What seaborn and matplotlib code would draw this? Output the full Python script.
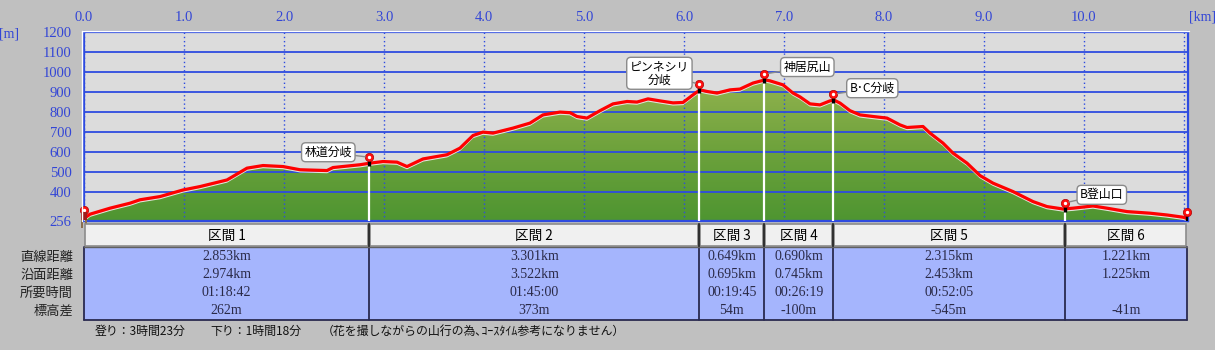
import numpy as np
import matplotlib
matplotlib.use("Agg")
import matplotlib.pyplot as plt
import seaborn as sns
from matplotlib.patches import Rectangle, Polygon
from matplotlib.colors import LinearSegmentedColormap
import matplotlib.transforms as mtrans

# ---------------- data ----------------
profile_km = [0.00, 0.06, 0.26, 0.46, 0.56, 0.76, 0.99, 1.16, 1.43, 1.63, 1.79, 1.99,
              2.16, 2.43, 2.49, 2.76, 2.86, 2.99, 3.13, 3.23, 3.39, 3.63, 3.76, 3.89,
              3.99, 4.09, 4.29, 4.46, 4.59, 4.76, 4.86, 4.93, 5.03, 5.16, 5.29, 5.43,
              5.53, 5.64, 5.76, 5.89, 5.99, 6.09, 6.16, 6.23, 6.33, 6.46, 6.56, 6.69,
              6.81, 6.86, 6.99, 7.09, 7.16, 7.26, 7.36, 7.46, 7.50, 7.56, 7.66, 7.76,
              7.89, 8.03, 8.16, 8.23, 8.39, 8.46, 8.59, 8.69, 8.83, 8.96, 9.09, 9.29,
              9.49, 9.63, 9.79, 9.89, 10.09, 10.23, 10.43, 10.66, 10.83, 10.99, 11.03]
profile_elev = [258, 280, 310, 335, 352, 368, 401, 418, 451, 510, 523, 518,
                502, 498, 513, 527, 535, 543, 540, 518, 556, 577, 610, 673,
                690, 685, 710, 735, 776, 790, 787, 768, 760, 797, 831, 843,
                840, 856, 846, 836, 838, 876, 901, 893, 885, 901, 905, 935,
                951, 946, 926, 885, 866, 831, 826, 846, 850, 835, 797, 776,
                768, 760, 726, 713, 718, 685, 635, 585, 535, 473, 435, 393,
                343, 318, 306, 310, 321, 310, 293, 285, 276, 265, 259]

sections = ["区間 1", "区間 2", "区間 3", "区間 4", "区間 5", "区間 6"]
straight_km = [2.853, 3.301, 0.649, 0.690, 2.315, 1.221]
surface_km = [2.974, 3.522, 0.695, 0.745, 2.453, 1.225]
section_times = ["01:18:42", "01:45:00", "00:19:45", "00:26:19", "00:52:05", ""]
elev_diff = [262, 373, 54, -100, -545, -41]
row_labels = ["直線距離", "沿面距離", "所要時間", "標高差"]
waypoints = ["林道分岐", "ピンネシリ\n分岐", "神居尻山", "B･C分岐", "B登山口"]
y_ticks = [256, 400, 500, 600, 700, 800, 900, 1000, 1100, 1200]
x_ticks = [0, 1, 2, 3, 4, 5, 6, 7, 8, 9, 10]
x_ticklabels = ["0.0", "1.0", "2.0", "3.0", "4.0", "5.0", "6.0", "7.0", "8.0", "9.0", "10.0"]
footer_texts = ["登り：3時間23分", "下り：1時間18分",
                "（花を撮しながらの山行の為､ｺｰｽﾀｲﾑ参考になりません）"]

# ---------------- style ----------------
sns.set_theme(style="white")
plt.rcParams["font.family"] = ["Noto Sans CJK JP", "DejaVu Sans"]
SERIF = ["Liberation Serif", "DejaVu Serif"]
BLUE_TXT = "#3346D6"
BLUE_LN = "#2E4BE0"
BG = "#C0C0C0"

W, H = 1215, 350
fig = plt.figure(figsize=(W / 100, H / 100), dpi=100, facecolor=BG)

ax = fig.add_axes([84 / W, 1 - 221 / H, 1104 / W, 189 / H])
ax.set_facecolor("#DCDCDC")

km = np.array(profile_km)
el = np.array(profile_elev, dtype=float)

# gradient fill clipped to profile
verts = np.column_stack([np.r_[km, km[::-1]], np.r_[el, np.full(len(km), 256.0)]])
poly = Polygon(verts, closed=True, fc="none", ec="none")
ax.add_patch(poly)
cmap = LinearSegmentedColormap.from_list("g", ["#4E9531", "#6EA23C", "#93B34F"])
grad = np.linspace(0, 1, 256).reshape(-1, 1)
im = ax.imshow(grad, extent=[0, 11.04, 256, 980], origin="lower", cmap=cmap,
               aspect="auto", zorder=1, interpolation="bilinear")
im.set_clip_path(poly)
ax.set_ylim(256, 1200)
ax.set_xlim(0, 11.04)

# grid
for y in y_ticks[1:-1]:
    ax.axhline(y, color=BLUE_LN, lw=1.3, zorder=2)
for x in range(12):
    ax.axvline(x, color=BLUE_LN, lw=1.0, ls=(0, (1, 2)), zorder=2)

# profile lines
ax.plot(km, el, color="#E4E4DC", lw=1.0, zorder=3)
sns.lineplot(x=km, y=el + 10, ax=ax, color="#FF0000", lw=2.3, sort=False,
             estimator=None, legend=False, zorder=5)

# section boundaries & markers
bounds = np.concatenate([[0.0], np.cumsum(straight_km)])
label_offsets = [(-41, 5), (-40, 11), (43, 7), (39, 6), (37, 8)]
for i, b in enumerate(bounds[1:]):
    e = np.interp(b, km, el)
    ax.plot([b, b], [256, e], color="white", lw=1.6, zorder=4, solid_capstyle="butt")
    ax.plot([b, b], [e - 5, e + 35], color="black", lw=2.4, zorder=6, solid_capstyle="butt")
    ax.scatter([b], [e + 40], s=36, color="#FF1010", edgecolors="#B00000",
               linewidths=0.5, zorder=7, clip_on=False)
    ax.scatter([b], [e + 40], s=2, color="white", zorder=8, clip_on=False)
    if i < len(waypoints):
        dx, dy = label_offsets[i]
        ax.annotate(waypoints[i], xy=(b, e + 40), xytext=(dx, dy),
                    textcoords="offset pixels", ha="center", va="center",
                    fontsize=8.6, color="black", linespacing=1.0, zorder=9,
                    bbox=dict(boxstyle="round,pad=0.25,rounding_size=0.35",
                              fc="white", ec="#8A8A8A", lw=1.0),
                    arrowprops=dict(arrowstyle="-", color="#8A8A8A", lw=1.0,
                                    shrinkA=0, shrinkB=3),
                    annotation_clip=False)

# start marker
ax.scatter([0], [el[0] + 55], s=36, color="#FF1010", edgecolors="#B00000",
           linewidths=0.5, zorder=7, clip_on=False)
ax.scatter([0], [el[0] + 55], s=2, color="white", zorder=8, clip_on=False)

# axes ticks
ax.set_yticks(y_ticks)
ax.set_yticklabels([str(v) for v in y_ticks])
ax.set_xticks(x_ticks)
ax.set_xticklabels(x_ticklabels)
ax.xaxis.tick_top()
ax.tick_params(axis="both", length=0, colors=BLUE_TXT, labelsize=10.5)
ax.tick_params(axis="y", pad=9)
ax.tick_params(axis="x", pad=6)
for lbl in ax.get_yticklabels() + ax.get_xticklabels():
    lbl.set_fontfamily(SERIF)
for s in ax.spines.values():
    s.set_color(BLUE_LN)
    s.set_linewidth(1.6)
    s.set_visible(True)
ax.grid(False)

# ---------------- overlay (pixel coords) ----------------
axo = fig.add_axes([0, 0, 1, 1], zorder=10)
axo.set_xlim(0, W)
axo.set_ylim(H, 0)
axo.axis("off")
axo.patch.set_alpha(0)
blend = mtrans.blended_transform_factory(ax.transData, axo.transData)

# white frame outline
axo.plot([82, 82], [30.5, 221], color="white", lw=1.0)
axo.plot([82, 1189], [30.5, 30.5], color="white", lw=1.0)

# unit labels
axo.text(9, 34, "[m]", color=BLUE_TXT, fontsize=10, family=SERIF, ha="center", va="center")
axo.text(1202, 17, "[km]", color=BLUE_TXT, fontsize=10, family=SERIF, ha="center", va="center")

# hiker icon
axo.add_patch(Rectangle((80.5, 212), 6, 8, fc="#A01C1C", ec="none"))
axo.add_patch(Rectangle((80.5, 220), 2.5, 8, fc="#8A6E50", ec="none"))
axo.add_patch(Rectangle((84.5, 220), 2.5, 8, fc="#8A6E50", ec="none"))

# table
HT, HB, DB = 224, 247, 320
axo.add_patch(Rectangle((bounds[0], HB), bounds[-1] - bounds[0], DB - HB,
                        transform=blend, fc="#A5B5FD", ec="none"))
for i in range(len(sections)):
    x0, x1 = bounds[i], bounds[i + 1]
    axo.add_patch(Rectangle((x0 + 0.01, HT), x1 - x0 - 0.02, HB - HT - 1,
                            transform=blend, fc="#F0F0F0", ec="#8C8C8C", lw=1.2))
    xc = (x0 + x1) / 2
    axo.text(xc, 236, sections[i], transform=blend, ha="center", va="center",
             fontsize=9.8, color="black")
    vals = [f"{straight_km[i]:.3f}km", f"{surface_km[i]:.3f}km",
            section_times[i], f"{elev_diff[i]}m"]
    for v, yy in zip(vals, [257, 275, 293, 311]):
        axo.text(xc, yy, v, transform=blend, ha="center", va="center",
                 fontsize=10, family=SERIF, color="#2A2A48")
for b in bounds:
    axo.plot([b, b], [HB, DB], transform=blend, color="#2A2A50", lw=1.3)
for b in bounds[1:-1]:
    axo.plot([b, b], [HT, HB], transform=blend, color="#303030", lw=1.5)
axo.plot([bounds[0], bounds[-1]], [DB, DB], transform=blend, color="#2A2A50", lw=1.3)
axo.plot([bounds[0], bounds[-1]], [HB, HB], transform=blend, color="#606060", lw=1.0)

for lbl, yy in zip(row_labels, [257, 275, 293, 311]):
    axo.text(73, yy, lbl, ha="right", va="center", fontsize=9.5, color="#222222")

for txt, xx in zip(footer_texts, [95, 210, 322]):
    axo.text(xx, 331, txt, ha="left", va="center", fontsize=8.6, color="#111111")

fig.savefig("out.png", dpi=100, facecolor=BG)
